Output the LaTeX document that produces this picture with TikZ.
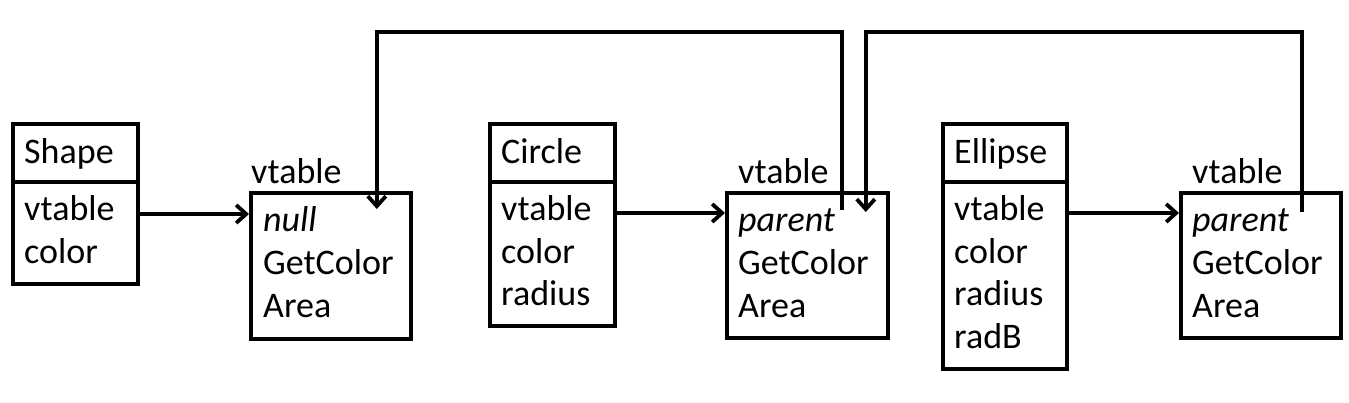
\documentclass[tikz,border=0pt]{standalone}
\usepackage{fontspec}
\setmainfont{Carlito}
\usetikzlibrary{arrows.meta}
\begin{document}
\begin{tikzpicture}[x=1pt,y=-1pt,
  box/.style={draw,line width=3.8pt,inner sep=0pt,anchor=north west},
  lbl/.style={inner sep=0pt,anchor=base west,font=\fontsize{36}{42}\selectfont},
  arr/.style={line width=3.8pt,-{Straight Barb[length=10pt,width=18pt]}}]
\useasboundingbox (0,0) rectangle (1349,402);
% class boxes
\node[box,minimum width=125pt,minimum height=58pt] (shapeT) at (11,122) {};
\node[box,minimum width=125pt,minimum height=102pt] (shapeB) at (11,180) {};
\node[box,minimum width=125pt,minimum height=58pt] (circT) at (488,122) {};
\node[box,minimum width=125pt,minimum height=144pt] (circB) at (488,180) {};
\node[box,minimum width=124pt,minimum height=58pt] (ellT) at (941,122) {};
\node[box,minimum width=124pt,minimum height=187pt] (ellB) at (941,180) {};
% vtables
\node[box,minimum width=160pt,minimum height=146pt] (vt1) at (249,191) {};
\node[box,minimum width=161pt,minimum height=145pt] (vt2) at (725,191) {};
\node[box,minimum width=160pt,minimum height=145pt] (vt3) at (1179,191) {};
% texts: Shape
\node[lbl] (sT) at (24,163) {Shape};
\node[lbl] (s1) at (24,220) {vtable};
\node[lbl] (s2) at (24,263) {color};
% Circle
\node[lbl] (cT) at (501,163) {Circle};
\node[lbl] (c1) at (501,220) {vtable};
\node[lbl] (c2) at (501,263) {color};
\node[lbl] (c3) at (501,305) {radius};
% Ellipse
\node[lbl] (eT) at (954,163) {Ellipse};
\node[lbl] (e1) at (954,220) {vtable};
\node[lbl] (e2) at (954,263) {color};
\node[lbl] (e3) at (954,305) {radius};
\node[lbl] (e4) at (954,348) {radB};
% vtable 1
\node[lbl] (v1L) at (251,183) {vtable};
\node[lbl] (v1a) at (263,231) {\itshape null};
\node[lbl] (v1b) at (263,274) {GetColor};
\node[lbl] (v1c) at (263,317) {Area};
% vtable 2
\node[lbl] (v2L) at (738,183) {vtable};
\node[lbl] (v2a) at (738,231) {\itshape parent};
\node[lbl] (v2b) at (738,274) {GetColor};
\node[lbl] (v2c) at (738,317) {Area};
% vtable 3
\node[lbl] (v3L) at (1192,183) {vtable};
\node[lbl] (v3a) at (1192,231) {\itshape parent};
\node[lbl] (v3b) at (1192,274) {GetColor};
\node[lbl] (v3c) at (1192,317) {Area};
% connectors
\coordinate (top) at (0,32);
\draw[arr] ([yshift=-34pt]shapeB.north east) -- ([yshift=-23pt]vt1.north west);
\draw[arr] ([yshift=-33pt]circB.north east) -- ([yshift=-22pt]vt2.north west);
\draw[arr] ([yshift=-33pt]ellB.north east) -- ([yshift=-22pt]vt3.north west);
\coordinate (p2) at ([xshift=-48pt,yshift=-19pt]vt2.north east);
\coordinate (q1) at ([xshift=-36pt,yshift=-18pt]vt1.north east);
\draw[arr] (p2) -- (p2 |- top) -| (q1);
\coordinate (p3) at ([xshift=-41pt,yshift=-21pt]vt3.north east);
\coordinate (q2) at ([xshift=-24pt,yshift=-21pt]vt2.north east);
\draw[arr] (p3) -- (p3 |- top) -| (q2);
\end{tikzpicture}
\end{document}
